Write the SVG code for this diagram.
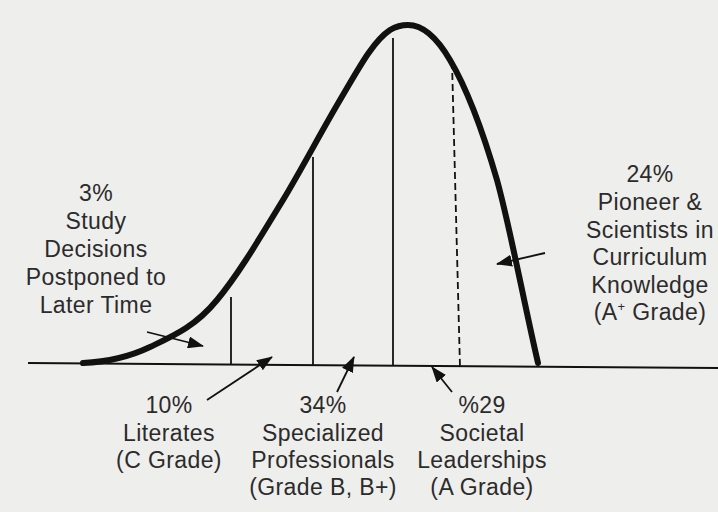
<svg xmlns="http://www.w3.org/2000/svg" width="718" height="512" viewBox="0 0 718 512">
<style>
.t{font-family:"Liberation Sans",Arial,sans-serif;font-size:23px;letter-spacing:0.4px;fill:#2b2b2b;text-anchor:middle}
.ln{stroke:#111;stroke-width:1.8;fill:none}
.ar{stroke:#111;stroke-width:1.8;fill:none;marker-end:url(#ah)}
</style>
<defs>
<marker id="ah" markerUnits="userSpaceOnUse" markerWidth="16" markerHeight="12" refX="15" refY="6" orient="auto">
<path d="M0,0 L16,6 L0,12 z" fill="#111"/>
</marker>
</defs>
<rect width="718" height="512" fill="#eeeeec"/>
<g id="axis">
<line x1="28" y1="363" x2="718" y2="368" stroke="#111" stroke-width="2"/>
</g>
<g id="curve">
<path d="M83,363 C105,362 128,357.5 150,347 C172,336.5 195,327 217,300 C239,273.6 261,236 283,200 C302,168.6 321,132 340,100 C357,71.6 372,42 390,30 C396,26.4 402,25 408,25 C422,25 436,36 450,60 C466,87 481,125 497,180 C510,227 524,303 538,363" fill="none" stroke="#111" stroke-width="6" stroke-linecap="round"/>
</g>
<g id="dividers">
<line class="ln" x1="231" y1="297" x2="231" y2="364"/>
<line class="ln" x1="313" y1="157" x2="313" y2="365"/>
<line class="ln" x1="393" y1="38" x2="393" y2="366"/>
<line class="ln" x1="452" y1="62" x2="460" y2="367" stroke-dasharray="7,4"/>
</g>
<g id="connectors">
<line class="ar" x1="147" y1="332" x2="203" y2="346"/>
<line class="ar" x1="207" y1="400" x2="272" y2="357"/>
<line class="ar" x1="337" y1="392" x2="354" y2="357"/>
<line class="ar" x1="452" y1="392" x2="432" y2="367"/>
<line class="ar" x1="545" y1="253" x2="497" y2="264"/>
</g>
<g id="node-postponed">
<text class="t" x="96" y="201">3%</text>
<text class="t" x="96" y="229">Study</text>
<text class="t" x="96" y="257">Decisions</text>
<text class="t" x="96" y="285">Postponed to</text>
<text class="t" x="96" y="313">Later Time</text>
</g>
<g id="node-pioneer">
<text class="t" x="650" y="182">24%</text>
<text class="t" x="650" y="210">Pioneer &amp;</text>
<text class="t" x="650" y="238">Scientists in</text>
<text class="t" x="650" y="265">Curriculum</text>
<text class="t" x="650" y="293">Knowledge</text>
<text class="t" x="650" y="320">(A<tspan font-size="13" dy="-9">+</tspan><tspan dy="9"> Grade)</tspan></text>
</g>
<g id="node-literates">
<text class="t" x="169" y="413">10%</text>
<text class="t" x="169" y="441">Literates</text>
<text class="t" x="169" y="468">(C Grade)</text>
</g>
<g id="node-specialized">
<text class="t" x="323" y="413">34%</text>
<text class="t" x="323" y="441">Specialized</text>
<text class="t" x="323" y="468">Professionals</text>
<text class="t" x="323" y="495">(Grade B, B+)</text>
</g>
<g id="node-societal">
<text class="t" x="482" y="413">%29</text>
<text class="t" x="482" y="441">Societal</text>
<text class="t" x="482" y="468">Leaderships</text>
<text class="t" x="482" y="495">(A Grade)</text>
</g>
</svg>
